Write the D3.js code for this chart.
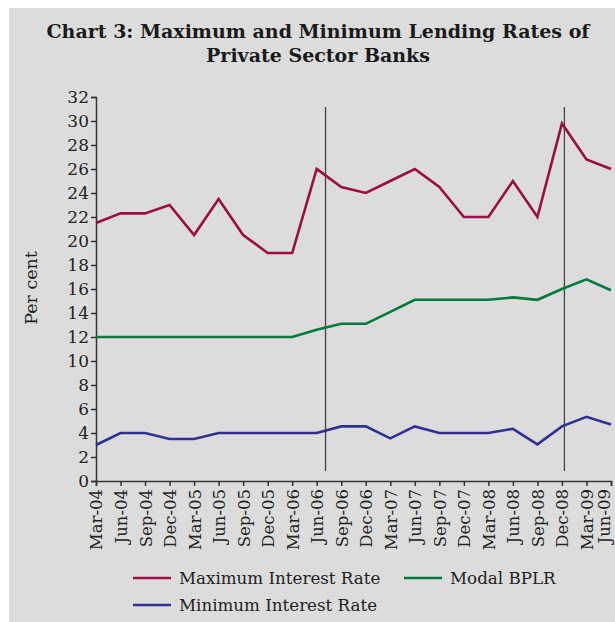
<!DOCTYPE html>
<html><head><meta charset="utf-8">
<script src="https://cdn.jsdelivr.net/npm/d3@7"></script>
<style>body{margin:0;background:#fff}svg{display:block}</style>
</head><body>
<script>
const categories = ["Mar-04","Jun-04","Sep-04","Dec-04","Mar-05","Jun-05","Sep-05","Dec-05","Mar-06","Jun-06","Sep-06","Dec-06","Mar-07","Jun-07","Sep-07","Dec-07","Mar-08","Jun-08","Sep-08","Dec-08","Mar-09","Jun-09"];
const maxRate = [21.5,22.3,22.3,23,20.5,23.5,20.5,19,19,26,24.5,24,25,26,24.5,22,22,25,22,29.8,26.8,26];
const modalBPLR = [12,12,12,12,12,12,12,12,12,12.6,13.1,13.1,14.1,15.1,15.1,15.1,15.1,15.3,15.1,16,16.8,15.9];
const minRate = [3,4,4,3.5,3.5,4,4,4,4,4,4.55,4.55,3.55,4.55,4,4,4,4.35,3.05,4.55,5.35,4.7];
const yTicks = [0,2,4,6,8,10,12,14,16,18,20,22,24,26,28,30,32];
const markerLines = [9.36, 19.1];

const W=615,H=622;
const svg=d3.select("body").append("svg").attr("width",W).attr("height",H);
svg.append("rect").attr("x",9).attr("y",8).attr("width",W-9).attr("height",H-8).attr("fill","#dcdcdc");

const serif="'DejaVu Serif', serif";
const title=svg.append("text").attr("x",318).attr("text-anchor","middle").attr("font-family",serif).attr("font-weight","bold").attr("font-size",19).attr("fill","#1a1a1a");
title.append("tspan").attr("x",318).attr("y",38).text("Chart 3: Maximum and Minimum Lending Rates of");
title.append("tspan").attr("x",318).attr("y",62).text("Private Sector Banks");

const x=d3.scaleLinear().domain([0,categories.length-1]).range([96,611]);
const y=d3.scaleLinear().domain([0,32]).range([481,97]);

const yAxis=svg.append("g").attr("transform","translate(96,0)")
  .call(d3.axisLeft(y).tickValues(yTicks).tickSize(5).tickPadding(2));
yAxis.selectAll("text").attr("font-family",serif).attr("font-size",17).attr("fill","#222");
yAxis.selectAll("line,path").attr("stroke","#333").attr("stroke-width",1.5);

const xAxis=svg.append("g").attr("transform","translate(0,481)")
  .call(d3.axisBottom(x).tickValues(d3.range(categories.length)).tickFormat(i=>categories[i]).tickSize(5).tickPadding(4));
xAxis.selectAll("line,path").attr("stroke","#333").attr("stroke-width",1.5);
xAxis.selectAll("text").attr("font-family",serif).attr("font-size",16.5).attr("fill","#222")
  .attr("transform","rotate(-90)").attr("text-anchor","end").attr("dx",0)
  .attr("dy",(d,i)=> i===categories.length-1 ? "-0.12em" : "0.36em").attr("y",0).attr("x",-8);

svg.append("text").attr("transform","translate(37,288) rotate(-90)").attr("text-anchor","middle")
  .attr("font-family",serif).attr("font-size",17.5).attr("fill","#222").text("Per cent");

markerLines.forEach(v=>{
  svg.append("line").attr("x1",x(v)).attr("x2",x(v)).attr("y1",107).attr("y2",471).attr("stroke","#444").attr("stroke-width",1.3);
});

const line=d3.line().x((d,i)=>x(i)).y(d=>y(d));
const series=[
  {name:"Maximum Interest Rate",data:maxRate,color:"#9b0d44"},
  {name:"Modal BPLR",data:modalBPLR,color:"#007a3d"},
  {name:"Minimum Interest Rate",data:minRate,color:"#2e3192"}
];
series.forEach(s=>{
  svg.append("path").attr("d",line(s.data)).attr("fill","none").attr("stroke",s.color).attr("stroke-width",2.6).attr("stroke-linejoin","miter");
});

const legendPos=[[133,578],[404,578],[133,605]];
series.forEach((s,i)=>{
  const [lx,ly]=legendPos[i];
  svg.append("line").attr("x1",lx).attr("x2",lx+38).attr("y1",ly).attr("y2",ly).attr("stroke",s.color).attr("stroke-width",2.6);
  svg.append("text").attr("x",lx+46).attr("y",ly+5.5).attr("font-family",serif).attr("font-size",16.7).attr("fill","#222").text(s.name);
});
</script>
</body></html>
